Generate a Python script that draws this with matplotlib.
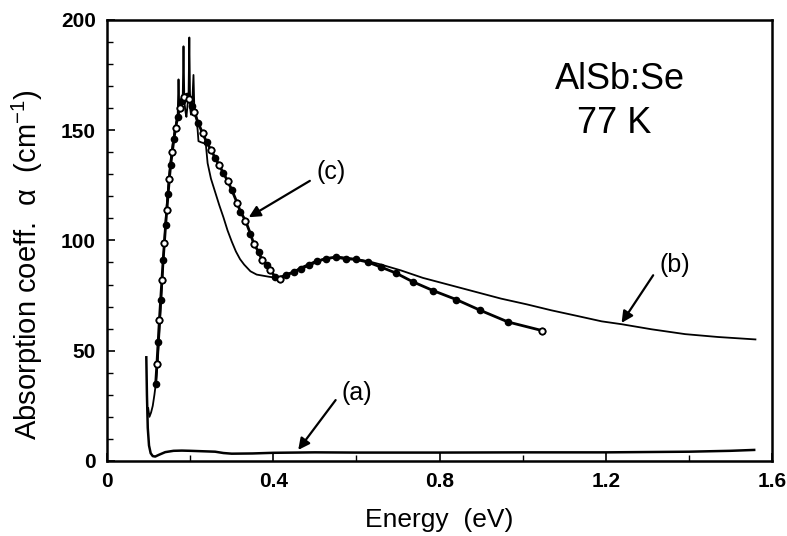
import numpy as np
import matplotlib
matplotlib.use('Agg')
import matplotlib.pyplot as plt
from matplotlib.ticker import MultipleLocator, FuncFormatter

plt.rcParams['font.family'] = ['Liberation Sans', 'DejaVu Sans']
plt.rcParams['mathtext.fontset'] = 'custom'
plt.rcParams['mathtext.rm'] = 'Liberation Sans'

# --- curve (a): undoped / reference sample ---
a_E = [0.0945, 0.096, 0.098, 0.101, 0.105, 0.110, 0.116, 0.125, 0.14, 0.16, 0.18, 0.20,
       0.23, 0.26, 0.28, 0.30, 0.35, 0.40, 0.50, 0.60, 0.80, 1.00, 1.20, 1.40, 1.50, 1.557]
a_alpha = [47, 30, 15, 7, 3.5, 2.2, 2.0, 2.8, 4.0, 4.6, 4.7, 4.6,
           4.4, 4.2, 3.6, 3.3, 3.4, 3.7, 3.9, 3.8, 3.8, 3.9, 3.9, 4.2, 4.6, 5.0]

# --- curve (b): measured, AlSb:Se ---
b_E = [0.099, 0.102, 0.106, 0.110, 0.114, 0.118, 0.122, 0.126, 0.130, 0.134, 0.138, 0.142,
       0.146, 0.150, 0.154, 0.158, 0.162, 0.166, 0.170, 0.172, 0.174, 0.178, 0.182, 0.184,
       0.186, 0.189, 0.191, 0.194, 0.196, 0.198, 0.200, 0.202, 0.205, 0.208, 0.210, 0.214,
       0.218, 0.220, 0.226, 0.234, 0.238, 0.242, 0.250, 0.260, 0.270, 0.280, 0.290, 0.300,
       0.310, 0.320, 0.330, 0.345, 0.360, 0.375, 0.390, 0.410, 0.430, 0.450, 0.470, 0.500,
       0.530, 0.560, 0.600, 0.630, 0.660, 0.707, 0.760, 0.828, 0.890, 0.948, 1.010, 1.069,
       1.130, 1.190, 1.238, 1.310, 1.391, 1.470, 1.560]
b_alpha = [24, 20, 22, 25, 30, 36, 45, 58, 72, 86, 100, 112,
           122, 131, 138, 144, 149, 153, 157, 173, 159, 161, 163, 188,
           163, 158, 156, 162, 164, 192, 160, 157, 162, 175, 160, 158,
           150, 145, 144.5, 144, 143, 135, 128, 122, 116, 110.5, 104.5, 99.5,
           95, 91.5, 89, 86, 84.5, 84, 83.5, 83, 84.5, 86, 88, 90.5,
           92, 92.5, 91.5, 90.5, 89, 86.4, 83, 79.6, 76.5, 73.6, 71, 68.3,
           65.8, 63.3, 62, 59.7, 57.5, 56.2, 55.1]

# --- curve (c): calculated, with symbols ---
c_E = [0.117, 0.120, 0.123, 0.126, 0.129, 0.132, 0.135, 0.138, 0.141, 0.144, 0.147, 0.150,
       0.153, 0.157, 0.161, 0.165, 0.170, 0.175, 0.180, 0.186, 0.192, 0.198, 0.204, 0.210,
       0.220, 0.230, 0.240, 0.250, 0.260, 0.270, 0.280, 0.290, 0.300, 0.313, 0.321, 0.333,
       0.345, 0.353, 0.365, 0.373, 0.385, 0.393, 0.405, 0.417, 0.430, 0.450, 0.466, 0.486,
       0.506, 0.526, 0.550, 0.574, 0.598, 0.627, 0.659, 0.695, 0.735, 0.785, 0.840, 0.898,
       0.965, 1.047]
c_alpha = [35, 44, 54, 64, 73, 82, 91, 99, 107, 114, 121, 128,
           134, 140, 146, 151, 156, 160, 163, 165, 165.5, 164, 161, 158,
           153, 148.5, 144.5, 141, 137.5, 134, 130.5, 127, 123, 117, 113, 109,
           103, 98.5, 94.7, 91, 88.7, 86.4, 83.4, 82.7, 84.2, 85.7, 87.2, 88.7,
           90.5, 91.7, 92.4, 91.7, 91.4, 90.2, 87.9, 85.2, 81.3, 77.2, 73.2, 68.3,
           63.0, 59.1]

fig, ax = plt.subplots(figsize=(7.87, 5.36), dpi=100)
fig.subplots_adjust(left=0.136, right=0.981, bottom=0.140, top=0.963)

ax.plot(a_E, a_alpha, color='black', lw=1.8)
ax.plot(b_E, b_alpha, color='black', lw=1.3)

c_E = np.array(c_E)
c_alpha = np.array(c_alpha)
ax.plot(c_E, c_alpha, color='black', lw=2.0, marker='o', ms=4.5, mfc='black', mec='black')
idx = np.arange(len(c_E))
hollow = ((idx % 2 == 1) & (c_E < 0.42)) | (idx == len(c_E) - 1)
ax.plot(c_E[hollow], c_alpha[hollow], ls='none', marker='o', ms=4.5, mfc='white', mec='black', mew=1.3)

arrow = dict(arrowstyle='-|>', color='black', lw=1.6, mutation_scale=17, shrinkA=0, shrinkB=0)
ax.annotate('', xy=(0.46, 5), xytext=(0.55, 27.6), arrowprops=arrow)
ax.text(0.60, 31, '(a)', fontsize=18, ha='center', va='center')
ax.annotate('', xy=(1.238, 62.6), xytext=(1.314, 84.2), arrowprops=arrow)
ax.text(1.365, 89, '(b)', fontsize=18, ha='center', va='center')
ax.annotate('', xy=(0.341, 110.5), xytext=(0.488, 127), arrowprops=arrow)
ax.text(0.54, 131, '(c)', fontsize=18, ha='center', va='center')

ax.text(1.235, 173, 'AlSb:Se', fontsize=26, ha='center', va='center')
ax.text(1.22, 153, '77 K', fontsize=26, ha='center', va='center')

ax.set_xlim(0, 1.6)
ax.set_ylim(0, 200)
ax.xaxis.set_major_locator(MultipleLocator(0.4))
ax.xaxis.set_minor_locator(MultipleLocator(0.2))
ax.yaxis.set_major_locator(MultipleLocator(50))
ax.yaxis.set_minor_locator(MultipleLocator(10))
ax.xaxis.set_major_formatter(FuncFormatter(lambda v, p: '0' if v == 0 else f'{v:.1f}'))
ax.tick_params(which='both', direction='in', top=False, right=False)
ax.tick_params(which='major', length=6, width=1.2, labelsize=15, pad=8)
ax.tick_params(which='minor', length=4, width=1.0)
for lab in ax.get_xticklabels() + ax.get_yticklabels():
    lab.set_fontweight('bold')
for s in ax.spines.values():
    s.set_linewidth(1.8)

ax.set_xlabel('Energy  (eV)', fontsize=19, labelpad=12)
ax.set_ylabel('Absorption coeff.  α  (cm$^{-1}$)', fontsize=21)
ax.yaxis.set_label_coords(-0.093, 0.445)

fig.savefig('out.png', dpi=100)
